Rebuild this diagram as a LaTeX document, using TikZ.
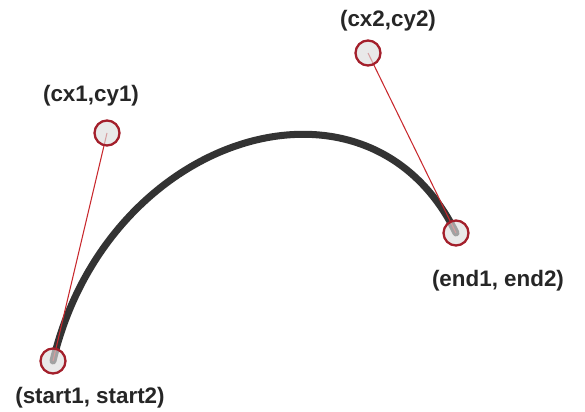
\documentclass[tikz,border=0pt]{standalone}
\usepackage{fontspec}
\setmainfont{Liberation Sans}
\definecolor{curvegray}{HTML}{333333}
\definecolor{handlered}{HTML}{C8282D}
\definecolor{ringred}{HTML}{A31F2B}
\definecolor{dotfill}{HTML}{DDDDDD}
\tikzset{
  pt/.style={circle, draw=ringred, line width=1.3pt, fill=dotfill, fill opacity=0.65,
    minimum size=0.5cm, inner sep=0pt},
  lbl/.style={font=\fontsize{12.75}{15}\selectfont\bfseries, text=black!85, inner sep=0pt},
}
\begin{document}
\begin{tikzpicture}[x=0.02cm, y=-0.02cm]
    \useasboundingbox (0,0) rectangle (585,412);
    % Anchor points
    \coordinate (s) at (53,361);
    \coordinate (c1) at (107,133);
    \coordinate (c2) at (368,53);
    \coordinate (e) at (456,233);
    % Curve
    \draw[curvegray, line width=4pt, line cap=round] (s) .. controls (c1) and (c2) .. (e);
    % Handles
    \draw[handlered, line width=0.6pt] (s) -- (c1);
    \draw[handlered, line width=0.6pt] (e) -- (c2);
    % Points
    \node[pt] (ps) at (s) {};
    \node[pt] (pc1) at (c1) {};
    \node[pt] (pc2) at (c2) {};
    \node[pt] (pe) at (e) {};
    % Labels
    \node[lbl] (ls) at (90,398) {(start1, start2)};
    \node[lbl] (lc1) at (91,96) {(cx1,cy1)};
    \node[lbl] (lc2) at (388,21) {(cx2,cy2)};
    \node[lbl] (le) at (498,281) {(end1, end2)};
\end{tikzpicture}
\end{document}
